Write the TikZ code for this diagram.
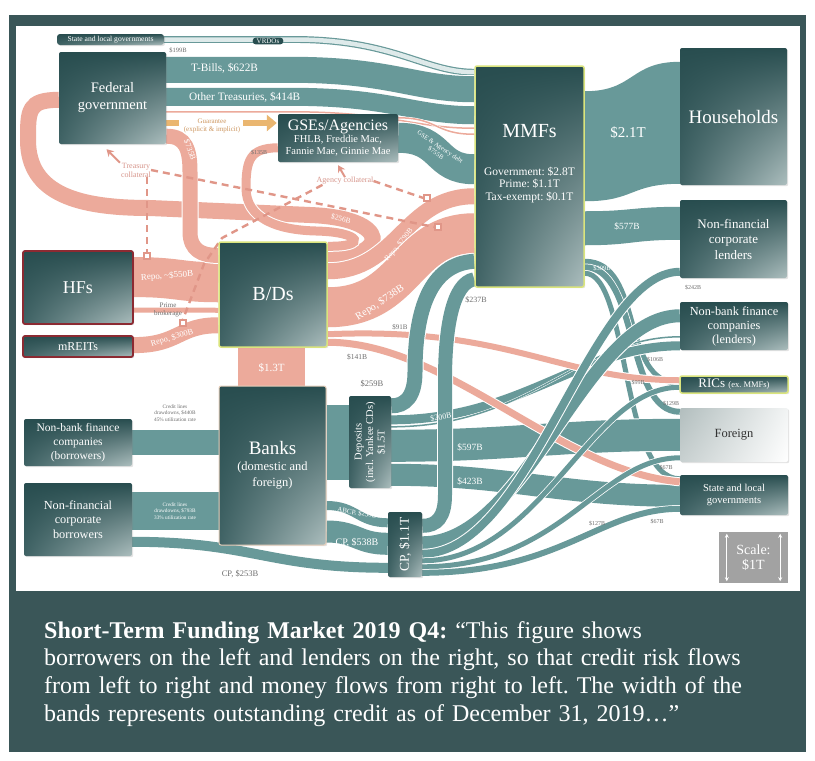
\documentclass[tikz,border=0pt]{standalone}
\usepackage{fontspec}
\setmainfont{Liberation Serif}
\usetikzlibrary{calc,shadings,shadows,arrows.meta}
\definecolor{framec}{RGB}{58,86,88}
\definecolor{boxdark}{RGB}{40,77,79}
\definecolor{boxmid}{RGB}{64,99,101}
\definecolor{boxlight}{RGB}{172,190,190}
\definecolor{bandteal}{RGB}{104,153,153}
\definecolor{vrdoin}{RGB}{222,234,234}
\definecolor{bandpink}{RGB}{236,170,155}
\definecolor{dashpink}{RGB}{224,150,136}
\definecolor{guarc}{RGB}{234,182,112}
\definecolor{guartxt}{RGB}{205,150,95}
\definecolor{glowc}{RGB}{218,228,125}
\definecolor{hfred}{RGB}{140,42,50}
\definecolor{lblc}{RGB}{110,110,110}
\definecolor{pinktxt}{RGB}{215,150,140}
\definecolor{scalec}{RGB}{162,162,162}
\definecolor{foreignA}{RGB}{178,190,190}
\definecolor{foreignB}{RGB}{200,208,208}
\definecolor{foreignC}{RGB}{242,244,244}
\definecolor{banksedge}{RGB}{232,208,188}
\pgfdeclarelayer{bg}
\pgfdeclarelayer{bands}
\pgfsetlayers{bg,bands,main}
\newcommand\fsz[2]{\fontsize{#1pt}{#2pt}\selectfont}
\frenchspacing
\tikzset{
  box/.style={shade, upper left=boxdark, upper right=boxdark, lower left=boxmid, lower right=boxlight,
    rounded corners=2pt, text=white, align=center, inner sep=0pt,
    drop shadow={opacity=0.22, shadow xshift=1.2pt, shadow yshift=-1.2pt}},
  glowbox/.style={box, draw=glowc, line width=1.5pt},
  redbox/.style={box, draw=hfred, line width=1.8pt},
  pb/.style 2 args={preaction={draw=white, line width=#2pt}, draw=bandpink, line width=#1pt, line cap=butt},
  tb/.style 2 args={preaction={draw=white, line width=#2pt}, draw=bandteal, line width=#1pt, line cap=butt},
  wlab/.style={text=white, inner sep=0pt},
  glab/.style={text=lblc, inner sep=0pt},
  dashln/.style={draw=dashpink, line width=2.4pt, dash pattern=on 7pt off 5pt},
  sqr/.style={draw=dashpink, fill=white, line width=1.2pt, minimum size=6pt, inner sep=0pt},
}
\begin{document}
\begin{tikzpicture}[x=1pt,y=-1pt]
\useasboundingbox (0,0) rectangle (815,761);
\begin{pgfonlayer}{bg}
\fill[white] (0,0) rectangle (815,761);
\fill[framec] (9,15) rectangle (806,752);
\fill[white] (16,26) rectangle (800,591);
\end{pgfonlayer}

% ---------------- boxes ----------------
\node[box, rounded corners=3pt, minimum width=107pt, minimum height=11pt, font=\fsz{7.6}{8}] (slgT) at (110.5,39.5) {State and local governments};
\node[box, minimum width=107pt, minimum height=92pt, font=\fsz{14.5}{17}] (fed) at (112.5,98) {Federal\\government};
\node[box, minimum width=120pt, minimum height=48pt, font=\fsz{10.5}{12}] (gse) at (338,138) {{\fsz{16}{16}GSEs/Agencies}\\FHLB, Freddie Mac,\\Fannie Mae, Ginnie Mae};
\node[glowbox, minimum width=109pt, minimum height=221pt] (mmfs) at (529.5,176.5) {};
\node[box, minimum width=107pt, minimum height=137pt, font=\fsz{19}{21}] (hh) at (733.5,116.5) {Households};
\node[box, minimum width=107pt, minimum height=78pt, font=\fsz{13}{15.5}] (nfcL) at (733.5,239) {Non-financial\\corporate\\lenders};
\node[box, minimum width=108pt, minimum height=48pt, font=\fsz{12.3}{14}] (nbfcL) at (734,326) {Non-bank finance\\companies\\(lenders)};
\node[glowbox, minimum width=108pt, minimum height=17pt, font=\fsz{13}{13}] (rics) at (734,384.5) {RICs {\fsz{8.5}{9}(ex. MMFs)}};
\node[box, upper left=foreignA, upper right=foreignC, lower left=foreignB, lower right=white, text=black!80, minimum width=108pt, minimum height=54pt, font=\fsz{12.5}{13}] (foreign) at (734,435) {Foreign};
\node[box, minimum width=108pt, minimum height=40pt, font=\fsz{10.5}{12.5}] (slgR) at (734,495) {State and local\\governments};
\node[fill=scalec, minimum width=69pt, minimum height=51pt, inner sep=0pt] (scl) at (753.5,557.5) {};
\node[redbox, minimum width=110pt, minimum height=73pt, font=\fsz{18}{20}] (hfs) at (78,287.5) {HFs};
\node[redbox, minimum width=110pt, minimum height=21pt, font=\fsz{12}{13}] (mreits) at (78,346.5) {mREITs};
\node[glowbox, minimum width=108pt, minimum height=105pt, font=\fsz{20}{22}] (bds) at (273,294.5) {B/Ds};
\node[box, draw=banksedge, line width=1pt, minimum width=107pt, minimum height=159pt, font=\fsz{12.5}{16}] (banks) at (272.5,465.5) {{\fsz{19}{22}Banks}\\(domestic and\\foreign)};
\node[box, minimum width=108pt, minimum height=47pt, font=\fsz{11.5}{14}] (nbfcB) at (78,442.5) {Non-bank finance\\companies\\(borrowers)};
\node[box, minimum width=108pt, minimum height=73pt, font=\fsz{12.3}{14.5}] (nfcB) at (78,519.5) {Non-financial\\corporate\\borrowers};
\node[box, minimum width=42pt, minimum height=92pt] (dep) at (370,442) {};
\node[box, minimum width=34pt, minimum height=65pt] (cp) at (405,544.5) {};

% texts inside boxes
\node[wlab, font=\fsz{20}{22}] (mmfsT) at (529.5,131) {MMFs};
\node[wlab, align=center, font=\fsz{11.5}{12.5}] (mmfsD) at (529.5,185) {Government: \$2.8T\\Prime: \$1.1T\\Tax-exempt: \$0.1T};
\node[wlab, rotate=90, align=center, font=\fsz{10.5}{11.5}] (depT) at (dep.center) {Deposits\\(incl. Yankee CDs)\\\$1.5T};
\node[wlab, rotate=90, font=\fsz{13.5}{14}] (cpT) at (cp.center) {CP, \$1.1T};
\node[wlab, align=center, font=\fsz{14}{15.5}] (sclT) at (scl.center) {Scale:\\\$1T};

% ---------------- bands ----------------
\begin{pgfonlayer}{bands}
% top teal flows into MMFs
\draw[draw=bandteal, line width=1.2pt, double=vrdoin, double distance=4.5pt]
  (slgT.east) -- ++(130,0) .. controls +(100,0) and +(-50,0) .. ($(mmfs.north west)+(0,7)$);
\draw[tb={26}{28}] ($(fed.north east)+(0,18)$) -- ++(125,0) .. controls +(100,0) and +(-60,0) .. ($(mmfs.north west)+(0,24)$);
\draw[tb={18}{20}] ($(fed.north east)+(0,45)$) -- ++(125,0) .. controls +(100,0) and +(-60,0) .. ($(mmfs.north west)+(0,50)$);
\draw[pb={1.5}{2.5}] ($(fed.north east)+(0,60)$) -- ++(125,0) .. controls +(100,0) and +(-60,0) .. ($(mmfs.north west)+(0,63)$);
\draw[pb={1.5}{2.5}] ($(gse.north east)+(0,4)$) .. controls +(40,0) and +(-40,0) .. ($(mmfs.north west)+(0,69)$);
\draw[tb={30}{32}] ($(gse.north east)+(0,24)$) .. controls +(45,0) and +(-40,0) .. ($(mmfs.north west)+(0,104)$);
% MMFs to lenders
\fill[bandteal] ($(mmfs.north east)+(0,26)$) .. controls +(50,0) and +(-50,0) .. ($(hh.north west)+(0,14)$)
  -- ($(hh.north west)+(0,136)$) .. controls +(-50,0) and +(50,0) .. ($(mmfs.north east)+(0,136)$) -- cycle;
\fill[bandteal] ($(mmfs.north east)+(0,146)$) .. controls +(48,0) and +(-48,0) .. ($(nfcL.north west)+(0,7)$)
  -- ($(nfcL.north west)+(0,40)$) .. controls +(-48,0) and +(48,0) .. ($(mmfs.north east)+(0,180)$) -- cycle;
\draw[tb={5}{6.5}] ($(mmfs.north east)+(0,196)$) .. controls +(60,0) and +(-60,0) .. ($(rics.north west)+(0,8)$);
\draw[tb={6}{7.5}] ($(mmfs.north east)+(0,202)$) .. controls +(55,0) and +(-55,0) .. ($(foreign.north west)+(0,4)$);
\draw[tb={5}{6.5}] ($(mmfs.north east)+(0,208)$) .. controls +(45,0) and +(-60,0) .. ($(slgR.north west)+(0,4)$);
% left borrowers to banks
\fill[bandteal] ($(nbfcB.north east)+(0,11)$) rectangle ($(banks.north west)+(0,69)$);
\fill[bandteal] ($(nfcB.north east)+(0,9)$) rectangle ($(banks.north west)+(0,144)$);
\fill[bandteal] ($(banks.north east)+(0,19)$) rectangle ($(dep.north west)+(0,84)$);
\draw[tb={10}{12}] ($(nfcB.north east)+(0,59)$) .. controls +(120,0) and +(-120,0) .. ($(cp.north west)+(0,56)$);
\draw[tb={9}{11}] ($(banks.north east)+(0,120)$) .. controls +(30,0) and +(-30,0) .. ($(cp.north west)+(0,11)$);
\draw[tb={22}{24}] ($(banks.north east)+(0,146)$) .. controls +(30,0) and +(-30,0) .. ($(cp.north west)+(0,32)$);
% deposits to lenders
\draw[tb={32}{34}] ($(dep.north east)+(0,50)$) .. controls +(120,0) and +(-120,0) .. ($(foreign.north west)+(0,27)$);
\draw[tb={22}{24}] ($(dep.north east)+(0,79)$) .. controls +(120,0) and +(-120,0) .. ($(slgR.north west)+(0,21)$);
\draw[tb={9}{11}] ($(dep.north east)+(0,24)$) .. controls +(130,0) and +(-100,0) .. ($(nbfcL.north west)+(0,44)$);
\draw[tb={1.5}{2.5}] ($(dep.north east)+(0,31)$) .. controls +(140,0) and +(-100,0) .. ($(nbfcL.north west)+(0,35)$);
% pink repo flows
\draw[pb={40}{42}] ($(hfs.north east)+(0,27)$) .. controls +(45,0) and +(-40,0) .. ($(bds.north west)+(0,41)$);
\draw[pb={5}{7}] ($(hfs.north east)+(0,60)$) -- ($(bds.north west)+(0,69)$);
\draw[pb={16}{18}] ($(mreits.north east)+(0,10)$) .. controls +(45,0) and +(-40,0) .. ($(bds.north west)+(0,84)$);
\draw[pb={16}{18}] ($(fed.north west)+(0,48)$) .. controls (28,100) and (28,110) .. (28,140)
  .. controls (28,195) and (80,208) .. (150,208) -- (310,215) .. controls (392,218) and (389,258) .. ($(bds.north east)+(0,16)$);
\draw[pb={15}{17}] ($(fed.south east)+(0,-8)$) .. controls (186,136) and (190,150) .. (190,172) -- (190,232)
  .. controls (190,250) and (202,256) .. ($(bds.north west)+(0,14)$);
\draw[pb={9}{11}] ($(gse.north west)+(0,34)$) .. controls (250,148) and (246,160) .. (246,188)
  .. controls (246,218) and (276,230) .. (316,231) .. controls (362,232) and (368,247) .. ($(bds.north east)+(0,5)$);
\draw[pb={16}{18}] ($(bds.north east)+(0,30)$) .. controls +(70,0) and +(-70,0) .. ($(mmfs.north west)+(0,131)$);
\draw[pb={40}{42}] ($(bds.north east)+(0,66)$) .. controls +(80,0) and +(-70,0) .. ($(mmfs.north west)+(0,168)$);
\draw[pb={6}{8}] ($(bds.north east)+(0,93)$) .. controls +(180,-8) and +(-120,0) .. ($(rics.north west)+(0,5)$);
\draw[pb={7}{9}] ($(bds.north east)+(0,101)$) .. controls +(120,0) and +(-120,-10) .. ($(slgR.north west)+(0,7)$);
\fill[bandpink] ($(bds.south)+(-35,0)$) rectangle ($(banks.north)+(32,0)$);
% teal on top: MMFs to deposits / CP, CP to lenders
\draw[tb={13}{15}] ($(cp.north east)+(0,31)$) .. controls +(105,0) and +(-95,0) .. ($(nbfcL.north west)+(0,14)$);
\draw[tb={8}{10}] ($(cp.north east)+(0,42)$) .. controls +(110,0) and +(-90,0) .. ($(nfcL.north west)+(0,72)$);
\draw[tb={5}{6.5}] ($(cp.north east)+(0,49)$) .. controls +(120,0) and +(-90,0) .. ($(rics.north west)+(0,12)$);
\draw[tb={5}{6.5}] ($(cp.north east)+(0,55)$) .. controls +(140,0) and +(-80,0) .. ($(foreign.north west)+(0,50)$);
\draw[tb={6}{7.5}] ($(cp.north east)+(0,61)$) .. controls +(140,0) and +(-80,0) .. ($(slgR.north west)+(0,34)$);
\draw[tb={15}{17}] ($(mmfs.north west)+(0,196)$) .. controls (430,264) and (415,310) .. (415,372)
  .. controls (415,397) and (405,406) .. ($(dep.north east)+(0,10)$);
\draw[tb={14}{16}] ($(mmfs.north west)+(0,214)$) .. controls (452,283) and (445,330) .. (445,380) -- (445,495)
  .. controls (445,517) and (437,526) .. ($(cp.north east)+(0,14)$);
\end{pgfonlayer}

% ---------------- labels ----------------
\node[glab, font=\fsz{6.5}{7}] (l199) at (178,50) {\$199B};
\node[fill=boxdark, text=white, rounded corners=3pt, inner xsep=4pt, inner ysep=1pt, font=\fsz{7}{7.5}] (vrdo) at (268,41) {VRDOs};
\node[wlab, anchor=west, font=\fsz{11.3}{12}] (ltb) at (191,68) {T-Bills, \$622B};
\node[wlab, anchor=west, font=\fsz{11.3}{12}] (lot) at (189,97) {Other Treasuries, \$414B};
\node[wlab, rotate=-34, align=center, font=\fsz{6.5}{7.5}] (lgd) at (438,150) {GSE \& Agency debt\\\$755B};
\node[glab, font=\fsz{6}{7}] (l135) at (259,153) {\$135B};
\node[wlab, rotate=-70, font=\fsz{8}{9}] (l735) at (190,150) {\$735B};
\node[wlab, rotate=-15, font=\fsz{7.5}{8}] (l256) at (341,219) {\$256B};
\node[wlab, rotate=50, font=\fsz{7.5}{8}] (l790) at (399,245) {Repo, \$790B};
\node[wlab, rotate=33, font=\fsz{10.5}{11}] (l738) at (380,303) {Repo, \$738B};
\node[glab, font=\fsz{7}{8}] (l91) at (400,327) {\$91B};
\node[glab, font=\fsz{7.5}{8}] (l141) at (357,357) {\$141B};
\node[wlab, rotate=4, font=\fsz{9}{10}] (l550) at (167,276) {Repo, \textasciitilde\$550B};
\node[glab, align=center, font=\fsz{7}{7.5}] (lpb) at (168,310) {Prime\\brokerage};
\node[wlab, rotate=16, font=\fsz{8.3}{9}] (l300) at (172,338) {Repo, \$300B};
\node[wlab, font=\fsz{11}{12}] (l13) at (271.5,368) {\$1.3T};
\node[glab, align=center, font=\fsz{5.3}{6.3}] (lcl1) at (175,413) {Credit lines\\drawdowns, \$440B\\45\% utilization rate};
\node[wlab, align=center, font=\fsz{5.3}{6.3}] (lcl2) at (175,511) {Credit lines\\drawdowns, \$793B\\33\% utilization rate};
\node[glab, font=\fsz{8.5}{9}] (lcp253) at (240,574) {CP, \$253B};
\node[wlab, rotate=-10, font=\fsz{7}{8}] (labcp) at (357,513) {ABCP, \$253B};
\node[wlab, font=\fsz{10}{11}] (lcp538) at (357,543) {CP, \$538B};
\node[glab, font=\fsz{8.5}{9}] (l259) at (372,384) {\$259B};
\node[glab, font=\fsz{8}{9}] (l237) at (476,300) {\$237B};
\node[wlab, rotate=10, font=\fsz{8}{9}] (l200) at (441,417) {\$200B};
\node[wlab, font=\fsz{9.5}{10}] (l597) at (470,447) {\$597B};
\node[wlab, font=\fsz{9.5}{10}] (l423) at (470,481) {\$423B};
\node[wlab, font=\fsz{6.5}{7}] (l309) at (602,268) {\$309B};
\node[glab, font=\fsz{6}{7}] (l242) at (693,288) {\$242B};
\node[glab, font=\fsz{6}{7}] (l106) at (655,360) {\$106B};
\node[glab, font=\fsz{6}{7}] (l99) at (638,383) {\$99B};
\node[glab, font=\fsz{6}{7}] (l129) at (671,404) {\$129B};
\node[glab, font=\fsz{6}{7}] (l67a) at (666,468) {\$67B};
\node[glab, font=\fsz{6}{7}] (l127) at (597,524) {\$127B};
\node[glab, font=\fsz{6}{7}] (l67b) at (657,522) {\$67B};
\node[wlab, font=\fsz{15}{16}] (l21) at (628,133) {\$2.1T};
\node[wlab, font=\fsz{9.4}{10}] (l577) at (627,226) {\$577B};
\node[text=guartxt, align=center, inner sep=0pt, font=\fsz{7}{8}] (guarT) at (212,126) {Guarantee\\(explicit \& implicit)};
\node[text=pinktxt, align=center, inner sep=0pt, font=\fsz{8}{9}] (tcl) at (136,170) {Treasury\\collateral};
\node[text=pinktxt, inner sep=0pt, font=\fsz{8}{9}] (acl) at (345,181) {Agency collateral};
\node[sqr] (sq1) at (147,256) {};
\node[sqr] (sq2) at (183,323) {};
\node[sqr] (sq3) at (427,198) {};
\node[sqr] (sq4) at (438,227) {};

% scale arrows
\draw[white, line width=1pt, {Stealth[length=4pt,width=4pt]}-{Stealth[length=4pt,width=4pt]}] ($(scl.north west)+(8,2)$) -- ($(scl.south west)+(8,-2)$);
\draw[white, line width=1pt, {Stealth[length=4pt,width=4pt]}-{Stealth[length=4pt,width=4pt]}] ($(scl.north east)+(-8,2)$) -- ($(scl.south east)+(-8,-2)$);

% dashed collateral lines and guarantee
\begin{pgfonlayer}{bands}
\draw[dashln] (tcl.east) -- (sq4.west);
\draw[dashln] (tcl.south -| sq1.north) -- (sq1.north);
\draw[dashln] (acl.east) -- (sq3.west);
\draw[dashln] ($(acl.south west)+(6,0)$) -- (222,238) -- (204,264) -- (sq2.north);
\draw[dashpink, line width=2pt, -{Stealth[length=7pt,width=8pt]}] ($(tcl.north west)+(-1,0)$) -- ($(fed.south)+(-6,5)$);
\draw[dashpink, line width=2pt, -{Stealth[length=7pt,width=8pt]}] (acl.north) -- ($(gse.south)+(0,3)$);
\draw[guarc, line width=6pt] ($(fed.east)+(0,25)$) -- ++(13,0);
\draw[guarc, line width=6pt, -{Triangle[length=10pt,width=16pt]}] ($(guarT.east)+(3,-3)$) -- ($(gse.west)+(-1,-15)$);
\end{pgfonlayer}

% caption
\node[anchor=base west, text width=765pt, align=left, text=white, inner sep=0pt, font=\fsz{24}{27.8}] (cap) at (44,638)
 {\textbf{Short-Term Funding Market 2019 Q4:} “This figure shows\\borrowers on the left and lenders on the right, so that credit risk flows\\from left to right and money flows from right to left. The width of the\\bands represents outstanding credit as of December 31, 2019…”};
\end{tikzpicture}
\end{document}
